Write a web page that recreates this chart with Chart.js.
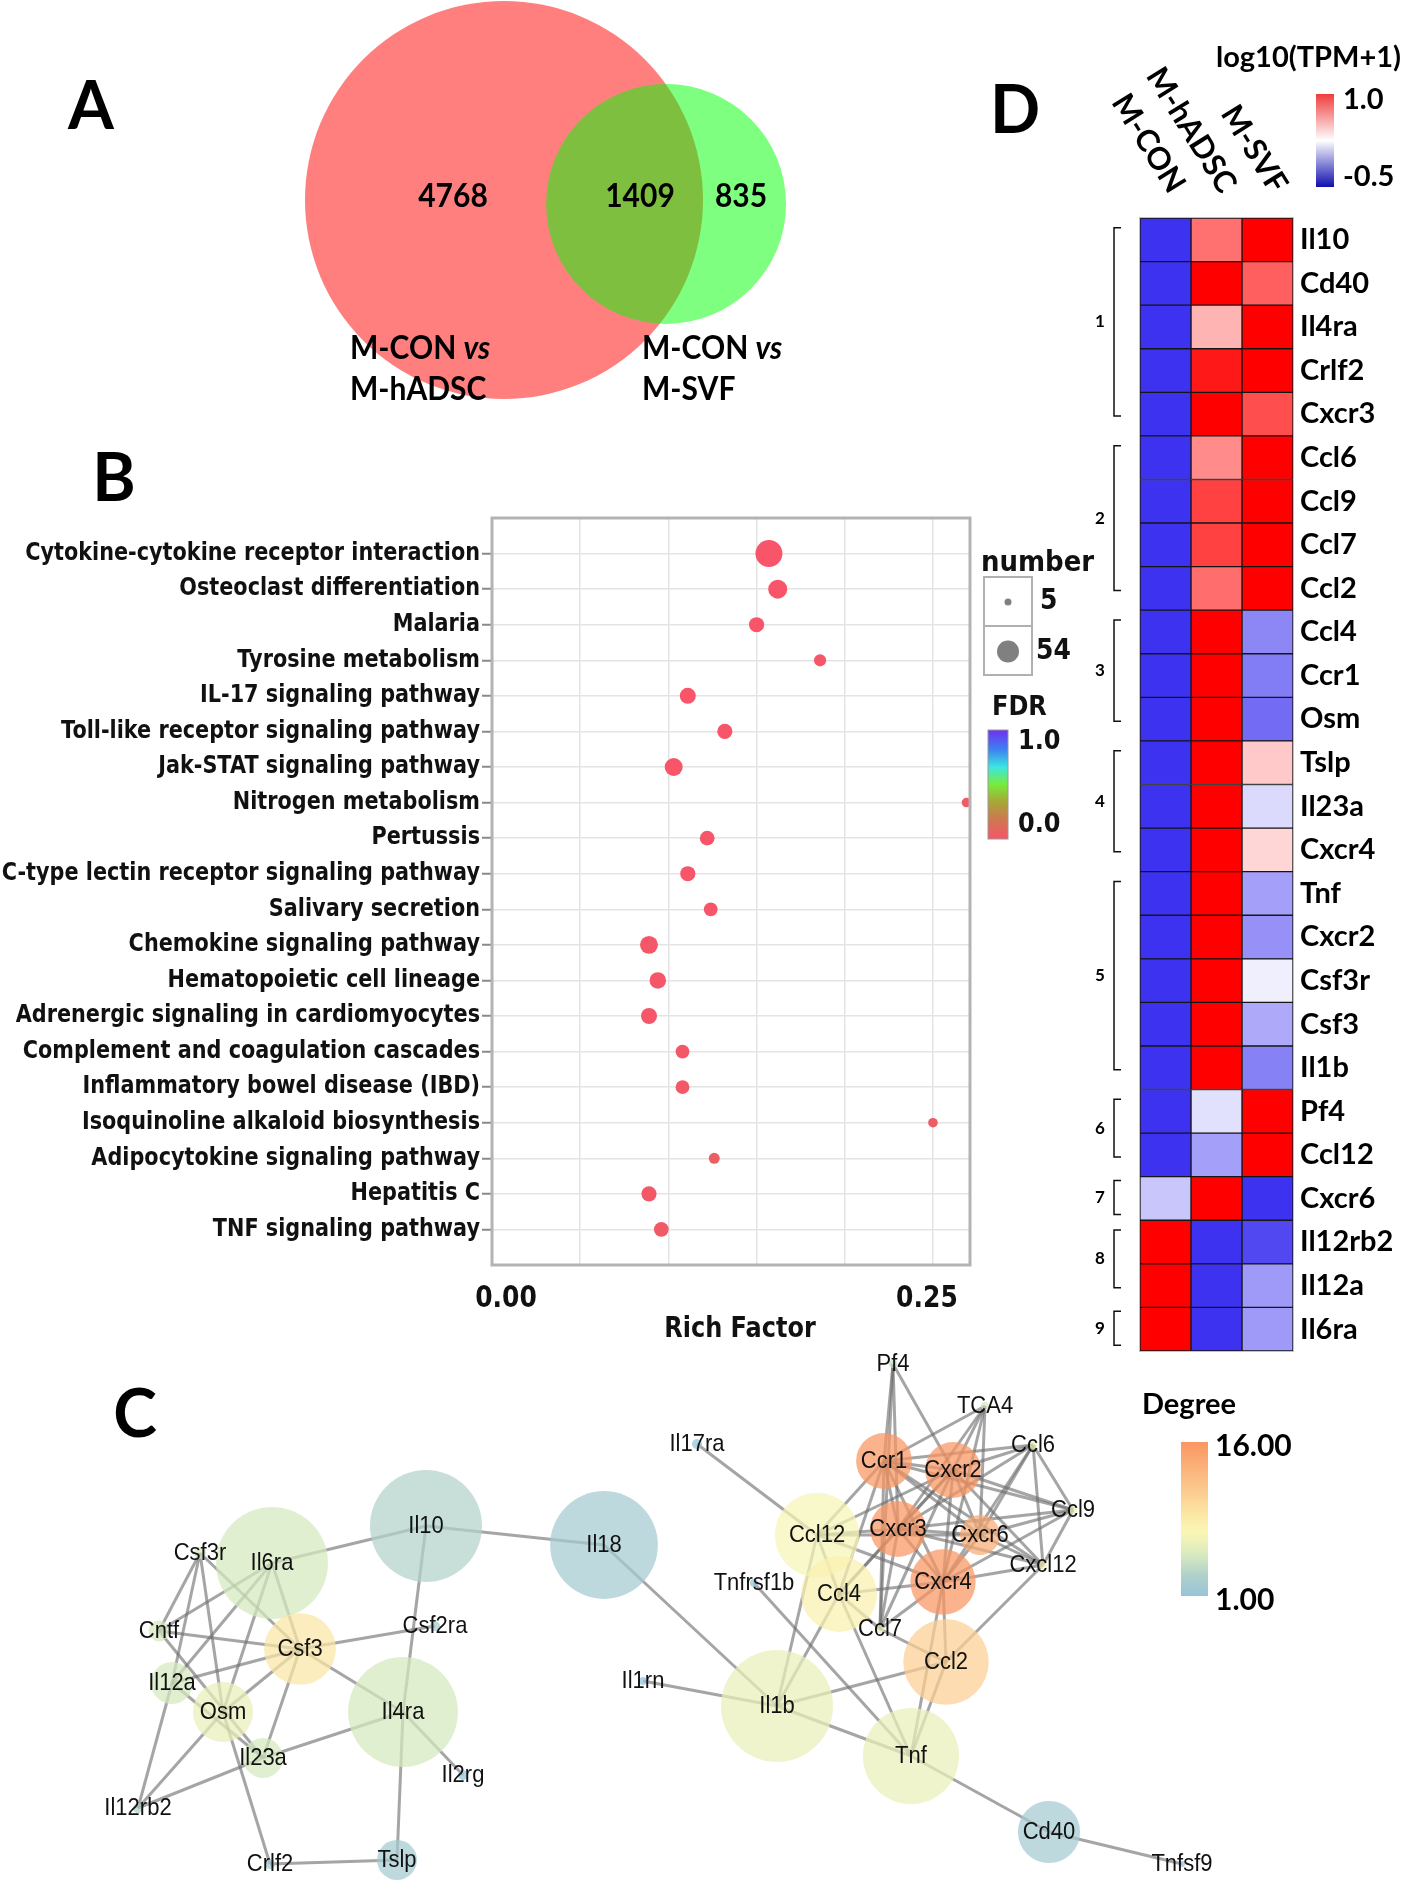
<!DOCTYPE html>
<html>
<head>
<meta charset="utf-8">
<title>Figure</title>
<script src="https://cdn.jsdelivr.net/npm/chart.js@4.4.1/dist/chart.umd.min.js"></script>
<style>
  html, body { margin: 0; padding: 0; background: #fff; }
  #page { position: relative; width: 1418px; height: 1881px; overflow: hidden; background: #fff; }
  #page canvas { position: absolute; }
</style>
</head>
<body>
<div id="page">
  <canvas id="vennChart" width="820" height="420" style="left:0;top:0"></canvas>
  <canvas id="keggChart" width="1110" height="920" style="left:0;top:440px"></canvas>
  <canvas id="heatChart" width="438" height="1360" style="left:980px;top:0"></canvas>
  <canvas id="netChart" width="1418" height="541" style="left:0;top:1340px"></canvas>
</div>
<script>
// ---- A : Venn ----
const vennLabels = ['M-CON vs M-hADSC', 'M-CON vs M-SVF'];
const vennCounts = [4768, 1409, 835]; // seulement A, commun, seulement B

// ---- B : enrichissement KEGG ----
const pathways = [
    'Cytokine-cytokine receptor interaction', 'Osteoclast differentiation', 'Malaria',
    'Tyrosine metabolism', 'IL-17 signaling pathway', 'Toll-like receptor signaling pathway',
    'Jak-STAT signaling pathway', 'Nitrogen metabolism', 'Pertussis',
    'C-type lectin receptor signaling pathway', 'Salivary secretion', 'Chemokine signaling pathway',
    'Hematopoietic cell lineage', 'Adrenergic signaling in cardiomyocytes',
    'Complement and coagulation cascades', 'Inflammatory bowel disease (IBD)',
    'Isoquinoline alkaloid biosynthesis', 'Adipocytokine signaling pathway', 'Hepatitis C',
    'TNF signaling pathway'
];
const richFactor = [0.157, 0.162, 0.150, 0.186, 0.111, 0.132, 0.103, 0.269, 0.122, 0.111,
                    0.124, 0.089, 0.094, 0.089, 0.108, 0.108, 0.250, 0.126, 0.089, 0.096];
const geneCount = [54, 25, 15, 9, 17, 15, 22, 5, 14, 15, 12, 22, 18, 17, 12, 12, 5, 7, 15, 14];
const fdrValue = [0.000, 0.000, 0.001, 0.010, 0.002, 0.004, 0.002, 0.030, 0.006, 0.004,
                  0.008, 0.012, 0.015, 0.013, 0.020, 0.020, 0.040, 0.045, 0.022, 0.025];
const richTicks = [0, 0.25];

// ---- D : heatmap log10(TPM+1) ----
const heatGenes = ['Il10', 'Cd40', 'Il4ra', 'Crlf2', 'Cxcr3', 'Ccl6', 'Ccl9', 'Ccl7', 'Ccl2',
                   'Ccl4', 'Ccr1', 'Osm', 'Tslp', 'Il23a', 'Cxcr4', 'Tnf', 'Cxcr2', 'Csf3r',
                   'Csf3', 'Il1b', 'Pf4', 'Ccl12', 'Cxcr6', 'Il12rb2', 'Il12a', 'Il6ra'];
const heatSamples = ['M-CON', 'M-hADSC', 'M-SVF'];
const heatCON   = [-0.5, -0.5, -0.5, -0.5, -0.5, -0.5, -0.5, -0.5, -0.5, -0.5, -0.5, -0.5, -0.5,
                   -0.5, -0.5, -0.5, -0.5, -0.5, -0.5, -0.5, -0.5, -0.5, 0.04, 1.0, 1.0, 1.0];
const heatHADSC = [0.67, 1.0, 0.47, 0.93, 1.0, 0.59, 0.81, 0.81, 0.68, 1.0, 1.0, 1.0, 1.0,
                   1.0, 1.0, 1.0, 1.0, 1.0, 1.0, 1.0, 0.135, -0.10, 1.0, -0.5, -0.5, -0.5];
const heatSVF   = [1.0, 0.72, 1.0, 1.0, 0.77, 1.0, 1.0, 1.0, 1.0, -0.19, -0.23, -0.29, 0.41,
                   0.11, 0.37, -0.10, -0.155, 0.19, -0.06, -0.21, 1.0, 1.0, -0.5, -0.42, -0.12, -0.12];
const heatClusterSizes = [5, 4, 3, 3, 5, 2, 1, 2, 1];

// ---- C : réseau PPI ----
const netNodes  = ['Il6ra', 'Il10', 'Il18', 'Csf3', 'Csf3r', 'Cntf', 'Il12a', 'Osm', 'Il23a', 'Il4ra',
                   'Csf2ra', 'Il2rg', 'Il12rb2', 'Crlf2', 'Tslp', 'Pf4', 'TCA4', 'Il17ra', 'Ccl6', 'Ccr1',
                   'Cxcr2', 'Ccl9', 'Ccl12', 'Cxcr3', 'Cxcr6', 'Cxcl12', 'Tnfrsf1b', 'Ccl4', 'Cxcr4', 'Ccl7',
                   'Ccl2', 'Il1rn', 'Il1b', 'Tnf', 'Cd40', 'Tnfsf9'];
const netX      = [272, 426, 604, 300, 200, 159, 172, 223, 263, 403,
                   435, 463, 138, 270, 397, 893, 985, 697, 1033, 884,
                   953, 1073, 817, 898, 980, 1043, 754, 839, 943, 880,
                   946, 643, 777, 911, 1049, 1182];
const netY      = [223, 186, 205, 309, 213, 291, 343, 372, 418, 372,
                   286, 435, 468, 524, 520, 24, 66, 104, 105, 121,
                   130, 170, 195, 189, 195, 225, 243, 254, 242, 289,
                   322, 341, 366, 416, 492, 524];
const netWeight = [10, 10, 9.6, 6.2, 0.6, 1.4, 3.4, 5.1, 3.2, 9.8,
                   0.4, 0.4, 0.4, 0.4, 3.2, 0.2, 0.2, 0.4, 0.2, 4.7,
                   4.7, 0.2, 7.4, 4.7, 3.2, 0.2, 0.2, 6.6, 5.6, 0.2,
                   7.5, 0.2, 10, 8.5, 5.3, 0];
const netDegree = [5, 3, 2, 9, 5, 5, 5, 6, 5, 5,
                   2, 1, 3, 2, 2, 4, 5, 1, 6, 16,
                   16, 6, 7, 16, 14, 7, 1, 8, 16, 6,
                   11, 1, 6, 6, 2, 1];
const netEdges = [
    ['Il6ra', 'Il10'], ['Il10', 'Il18'], ['Il10', 'Il4ra'], ['Csf3', 'Csf2ra'], ['Csf3', 'Il4ra'],
    ['Csf3', 'Il6ra'], ['Csf3', 'Cntf'], ['Csf3', 'Il12a'], ['Csf3', 'Osm'], ['Csf3', 'Il23a'],
    ['Csf3r', 'Csf3'], ['Csf3r', 'Cntf'], ['Csf3r', 'Il12a'], ['Csf3r', 'Osm'], ['Il6ra', 'Cntf'],
    ['Il6ra', 'Il12a'], ['Il6ra', 'Osm'], ['Cntf', 'Il23a'], ['Il12a', 'Il23a'], ['Il12a', 'Il12rb2'],
    ['Osm', 'Il12rb2'], ['Il23a', 'Il12rb2'], ['Il23a', 'Il4ra'], ['Osm', 'Crlf2'], ['Crlf2', 'Tslp'],
    ['Il4ra', 'Tslp'], ['Il4ra', 'Il2rg'],
    ['Il18', 'Il1b'], ['Il1rn', 'Il1b'], ['Il17ra', 'Ccl12'], ['Tnfrsf1b', 'Tnf'], ['Il1b', 'Ccl12'],
    ['Il1b', 'Ccl4'], ['Il1b', 'Ccl2'], ['Il1b', 'Tnf'], ['Tnf', 'Ccl4'], ['Tnf', 'Ccl2'],
    ['Tnf', 'Cxcr4'], ['Tnf', 'Cd40'], ['Cd40', 'Tnfsf9'], ['Ccl7', 'Ccl2'], ['Ccl2', 'Cxcl12'],
    ['Ccl2', 'Cxcr4'], ['Pf4', 'Ccr1'], ['Pf4', 'Cxcr3'], ['Pf4', 'Cxcr2'], ['Pf4', 'Ccl7'],
    ['TCA4', 'Ccr1'], ['TCA4', 'Cxcr2'], ['TCA4', 'Cxcr3'], ['TCA4', 'Cxcr6'], ['TCA4', 'Cxcr4'],
    ['Ccl6', 'Ccr1'], ['Ccl6', 'Cxcr2'], ['Ccl6', 'Cxcr3'], ['Ccl6', 'Cxcr6'], ['Ccl6', 'Ccl9'],
    ['Ccl6', 'Cxcl12'], ['Ccl6', 'Cxcr4'], ['Ccl9', 'Ccr1'], ['Ccl9', 'Cxcr2'], ['Ccl9', 'Cxcr3'],
    ['Ccl9', 'Cxcr6'], ['Ccl9', 'Cxcr4'], ['Ccl9', 'Cxcl12'], ['Cxcl12', 'Ccr1'], ['Cxcl12', 'Cxcr2'],
    ['Cxcl12', 'Cxcr3'], ['Cxcl12', 'Cxcr4'], ['Cxcl12', 'Cxcr6'], ['Ccr1', 'Cxcr2'], ['Ccr1', 'Cxcr3'],
    ['Ccr1', 'Cxcr4'], ['Ccr1', 'Ccl12'], ['Ccr1', 'Ccl4'], ['Ccr1', 'Ccl7'], ['Ccr1', 'Cxcr6'],
    ['Cxcr2', 'Cxcr3'], ['Cxcr2', 'Cxcr4'], ['Cxcr2', 'Cxcr6'], ['Cxcr2', 'Ccl7'], ['Cxcr2', 'Ccl12'],
    ['Cxcr2', 'Ccl4'], ['Cxcr3', 'Cxcr4'], ['Cxcr3', 'Cxcr6'], ['Cxcr3', 'Ccl12'], ['Cxcr3', 'Ccl4'],
    ['Cxcr3', 'Ccl7'], ['Cxcr4', 'Cxcr6'], ['Cxcr4', 'Ccl4'], ['Cxcr4', 'Ccl7'], ['Cxcr4', 'Ccl12'],
    ['Ccl12', 'Cxcr6'], ['Ccl4', 'Ccl7'], ['Ccl4', 'Ccl12']
];

// ---------- utilitaires ----------
function lerpColor(stops, t) {
    t = Math.max(0, Math.min(1, t));
    for (let i = 1; i < stops.length; i++) {
        if (t <= stops[i][0]) {
            const [t0, c0] = stops[i - 1];
            const [t1, c1] = stops[i];
            const f = (t - t0) / ((t1 - t0) || 1);
            return c0.map((v, k) => Math.round(v + (c1[k] - v) * f));
        }
    }
    return stops[stops.length - 1][1];
}
const rgb = (c, a = 1) => `rgba(${c[0]},${c[1]},${c[2]},${a})`;

function txt(ctx, s, x, y, font, align = 'left', color = '#111', baseline = 'middle') {
    ctx.font = font;
    ctx.fillStyle = color;
    ctx.textAlign = align;
    ctx.textBaseline = baseline;
    ctx.fillText(s, x, y);
}

// texte légèrement étiré (la figure d'origine est compressée en largeur)
function sText(ctx, s, x, y, font, align, sx, sy, color = '#111') {
    ctx.save();
    ctx.translate(x, y);
    ctx.scale(sx, sy);
    txt(ctx, s, 0, 0, font, align, color);
    ctx.restore();
}

function vertGradient(ctx, stops, x, top, w, h) {
    const g = ctx.createLinearGradient(0, top + h, 0, top);
    stops.forEach(([t, c]) => g.addColorStop(t, rgb(c)));
    ctx.fillStyle = g;
    ctx.fillRect(x, top, w, h);
}

const baseOptions = () => ({
    responsive: false,
    animation: false,
    events: [],
    plugins: { legend: { display: false }, tooltip: { enabled: false } }
});

const LATO = '"Lato", "Liberation Sans", sans-serif';
const DEJAVU = '"DejaVu Sans", sans-serif';

// ---------- A : Venn ----------
const vennTotals = [vennCounts[0] + vennCounts[1], vennCounts[1] + vennCounts[2]];
const vennR = [1, Math.sqrt(vennTotals[1] / vennTotals[0])];

function circleOverlap(r1, r2, d) {
    if (d >= r1 + r2) return 0;
    if (d <= Math.abs(r1 - r2)) return Math.PI * Math.min(r1, r2) ** 2;
    const a = r1 * r1 * Math.acos((d * d + r1 * r1 - r2 * r2) / (2 * d * r1));
    const b = r2 * r2 * Math.acos((d * d + r2 * r2 - r1 * r1) / (2 * d * r2));
    const c = 0.5 * Math.sqrt((-d + r1 + r2) * (d + r1 - r2) * (d - r1 + r2) * (d + r1 + r2));
    return a + b - c;
}

// distance des centres pour que l'aire commune soit proportionnelle à l'intersection
const vennTarget = Math.PI * vennCounts[1] / vennTotals[0];
let lo = Math.abs(vennR[0] - vennR[1]), hi = vennR[0] + vennR[1];
for (let i = 0; i < 60; i++) {
    const mid = (lo + hi) / 2;
    if (circleOverlap(vennR[0], vennR[1], mid) > vennTarget) lo = mid; else hi = mid;
}
const vennDist = (lo + hi) / 2;
const vennPx = 199; // pixels par unité de rayon

const vennText = {
    id: 'vennText',
    afterDraw(chart) {
        const ctx = chart.ctx;
        ctx.save();
        txt(ctx, 'A', 91, 108, `bold 66px ${LATO}`, 'center', '#000');
        const f = `bold 30px ${LATO}`;
        sText(ctx, vennCounts[0].toString(), 453, 197, f, 'center', 1, 1.08, '#000');
        sText(ctx, vennCounts[1].toString(), 640, 197, f, 'center', 1, 1.08, '#000');
        sText(ctx, vennCounts[2].toString(), 741, 197, f, 'center', 1, 1.08, '#000');
        [[350, 'M-hADSC'], [642, 'M-SVF']].forEach(([x, second]) => {
            ctx.font = `bold 30px ${LATO}`;
            const w = ctx.measureText('M-CON ').width;
            sText(ctx, 'M-CON ', x, 348, `bold 30px ${LATO}`, 'left', 1, 1.1, '#000');
            sText(ctx, 'vs', x + w, 348, `italic bold 30px ${LATO}`, 'left', 1, 1.1, '#000');
            sText(ctx, second, x, 389, `bold 30px ${LATO}`, 'left', 1, 1.1, '#000');
        });
        ctx.restore();
    }
};

new Chart(document.getElementById('vennChart'), {
    type: 'bubble',
    data: {
        datasets: [
            { label: vennLabels[0], data: [{ x: 0, y: 0, r: vennR[0] * vennPx }],
              backgroundColor: 'rgba(255,0,0,0.5)', borderWidth: 0, order: 1 },
            { label: vennLabels[1], data: [{ x: vennDist, y: -0.02, r: vennR[1] * vennPx }],
              backgroundColor: 'rgba(0,255,0,0.5)', borderWidth: 0, order: 0 }
        ]
    },
    options: {
        ...baseOptions(),
        layout: { padding: 0, autoPadding: false },
        scales: {
            x: { display: false, min: -504 / vennPx, max: (820 - 504) / vennPx },
            y: { display: false, min: -(420 - 200) / vennPx, max: 200 / vennPx }
        }
    },
    plugins: [vennText]
});

// ---------- B : bulles KEGG ----------
const fdrStops = [[0, [248, 84, 106]], [0.18, [205, 120, 80]], [0.35, [165, 170, 55]], [0.5, [120, 235, 60]],
                  [0.66, [60, 230, 225]], [0.82, [60, 130, 240]], [1, [112, 48, 240]]];
const sizeFor = n => 4.8 + (Math.sqrt(n) - Math.sqrt(5)) / (Math.sqrt(54) - Math.sqrt(5)) * 8.7;

const keggDecor = {
    id: 'keggDecor',
    afterDraw(chart) {
        const ctx = chart.ctx;
        const a = chart.chartArea;
        const xs = chart.scales.x, ys = chart.scales.y;
        ctx.save();
        ctx.strokeStyle = '#b3b3b3';
        ctx.lineWidth = 3;
        ctx.strokeRect(a.left, a.top, a.right - a.left, a.bottom - a.top);

        // libellés des voies, alignés sur l'échelle y
        pathways.forEach((p, i) => {
            sText(ctx, p, 480, ys.getPixelForValue(i + 1), `bold 21px ${DEJAVU}`, 'right', 0.99, 1.16);
        });
        // libellés de l'axe x (décalés comme dans la figure d'origine)
        richTicks.forEach(v => {
            const shift = v === 0 ? 14 : -6;
            sText(ctx, v.toFixed(2), xs.getPixelForValue(v) + shift, 859, `bold 25px ${DEJAVU}`, 'center', 1, 1.2);
        });

        txt(ctx, 'B', 114, 40, `bold 66px ${LATO}`, 'center', '#000');
        sText(ctx, 'Rich Factor', 740, 890, `bold 24px ${DEJAVU}`, 'center', 1, 1.15);

        // légende taille
        sText(ctx, 'number', 981, 123, `bold 26px ${DEJAVU}`, 'left', 1, 1.12);
        ctx.strokeStyle = '#b0b0b0';
        ctx.lineWidth = 2;
        ctx.strokeRect(984, 137, 48, 49);
        ctx.strokeRect(984, 186, 48, 49);
        ctx.fillStyle = '#808080';
        ctx.beginPath(); ctx.arc(1008, 162, 3.5, 0, Math.PI * 2); ctx.fill();
        ctx.beginPath(); ctx.arc(1008, 211.5, 11, 0, Math.PI * 2); ctx.fill();
        sText(ctx, '5', 1040, 162, `bold 25px ${DEJAVU}`, 'left', 1, 1.12);
        sText(ctx, '54', 1036, 212, `bold 25px ${DEJAVU}`, 'left', 1, 1.12);

        // légende FDR
        sText(ctx, 'FDR', 992, 268, `bold 24px ${DEJAVU}`, 'left', 1, 1.12);
        vertGradient(ctx, fdrStops, 988, 290, 20, 109);
        ctx.strokeStyle = '#999';
        ctx.lineWidth = 1;
        ctx.strokeRect(988, 290, 20, 109);
        sText(ctx, '1.0', 1018, 302, `bold 24px ${DEJAVU}`, 'left', 1, 1.12);
        sText(ctx, '0.0', 1018, 385, `bold 24px ${DEJAVU}`, 'left', 1, 1.12);
        ctx.restore();
    }
};

new Chart(document.getElementById('keggChart'), {
    type: 'bubble',
    data: {
        datasets: [{
            data: pathways.map((p, i) => ({ x: richFactor[i], y: i + 1, r: sizeFor(geneCount[i]) })),
            backgroundColor: fdrValue.map(v => rgb(lerpColor(fdrStops, v))),
            borderWidth: 0
        }]
    },
    options: {
        ...baseOptions(),
        layout: { padding: { left: 0, top: 78, right: 140, bottom: 0 }, autoPadding: false },
        scales: {
            x: {
                type: 'linear', min: 0, max: 0.271,
                afterFit: s => { s.height = 95; },
                ticks: { stepSize: 0.05, includeBounds: false, autoSkip: false, maxRotation: 0,
                         color: 'rgba(0,0,0,0)', font: { size: 25 } },
                grid: { color: '#e4e4e4', lineWidth: 1.5, drawTicks: false },
                border: { display: false }
            },
            y: {
                type: 'linear', min: 0, max: 21, reverse: true,
                afterFit: s => { s.width = 492; s.paddingTop = 0; s.paddingBottom = 0; },
                ticks: { stepSize: 1, autoSkip: false, padding: 2, color: 'rgba(0,0,0,0)',
                         font: { size: 21 }, callback: v => pathways[Math.round(v) - 1] || '' },
                grid: {
                    color: '#e4e4e4', lineWidth: 1.5, tickLength: 10, tickWidth: 2,
                    tickColor: c => (c.tick && c.tick.value >= 1 && c.tick.value <= 20) ? '#8a8a8a' : 'rgba(0,0,0,0)'
                },
                border: { display: false }
            }
        }
    },
    plugins: [keggDecor]
});

// ---------- D : heatmap ----------
const heatBlue = [60, 50, 240], heatRed = [255, 0, 0];
function heatColor(v) {
    const mid = 0.25;
    const target = v >= mid ? heatRed : heatBlue;
    const f = Math.min(1, Math.abs(v - mid) / 0.75);
    return rgb([0, 1, 2].map(k => Math.round(255 + (target[k] - 255) * f)));
}
const heatMatrix = [heatCON, heatHADSC, heatSVF];
const heatLegendStops = [[0, [15, 15, 175]], [0.5, [255, 255, 255]], [1, [240, 60, 60]]];

const heatDecor = {
    id: 'heatDecor',
    afterDraw(chart) {
        const ctx = chart.ctx;
        const xs = chart.scales.x, ys = chart.scales.y;
        const a = chart.chartArea;
        ctx.save();
        ctx.strokeStyle = '#b8c4cc';
        ctx.lineWidth = 1;
        ctx.strokeRect(a.left - 0.5, a.top - 0.5, a.right - a.left + 1, a.bottom - a.top + 1);

        txt(ctx, 'D', 35, 112, `bold 66px ${LATO}`, 'center', '#000');

        // en-têtes inclinés
        heatSamples.forEach((s, j) => {
            ctx.save();
            ctx.translate(xs.getPixelForValue(j + 0.5) + 12, 190);
            ctx.rotate(58 * Math.PI / 180);
            txt(ctx, s, 0, 0, `bold 31px ${LATO}`, 'right', '#000');
            ctx.restore();
        });

        // crochets des clusters
        let start = 0;
        ctx.strokeStyle = '#111';
        ctx.lineWidth = 1.5;
        heatClusterSizes.forEach((n, k) => {
            const c0 = ys.getPixelForValue(start), c1 = ys.getPixelForValue(start + n - 1);
            const top = n > 1 ? c0 - 12 : c0 - 18;
            const bot = n > 1 ? c1 + 2 : c1 + 16;
            ctx.beginPath();
            ctx.moveTo(141, top); ctx.lineTo(134, top); ctx.lineTo(134, bot); ctx.lineTo(141, bot);
            ctx.stroke();
            txt(ctx, String(k + 1), 120, (top + bot) / 2, `bold 17px ${LATO}`, 'center', '#000');
            start += n;
        });

        // légende couleur
        txt(ctx, 'log10(TPM+1)', 236, 58, `bold 29px ${LATO}`, 'left', '#000');
        vertGradient(ctx, heatLegendStops, 336, 94, 18, 93);
        txt(ctx, '1.0', 363, 100, `bold 29px ${LATO}`, 'left', '#000');
        txt(ctx, '-0.5', 363, 177, `bold 29px ${LATO}`, 'left', '#000');
        ctx.restore();
    }
};

new Chart(document.getElementById('heatChart'), {
    type: 'bar',
    data: {
        labels: heatGenes,
        datasets: heatSamples.map((s, j) => ({
            label: s,
            data: heatGenes.map(() => 1),
            backgroundColor: heatMatrix[j].map(heatColor),
            borderColor: '#161616',
            borderWidth: 1,
            borderSkipped: false,
            barPercentage: 1,
            categoryPercentage: 1
        }))
    },
    options: {
        ...baseOptions(),
        indexAxis: 'y',
        layout: { padding: { left: 160, top: 218, right: 0, bottom: 9 }, autoPadding: false },
        scales: {
            x: { stacked: true, min: 0, max: 3, display: false },
            y: {
                stacked: true, position: 'right',
                afterFit: s => { s.width = 125; s.paddingTop = 0; s.paddingBottom = 0; },
                ticks: { padding: 7, color: '#000', font: { family: LATO, weight: 'bold', size: 29 } },
                grid: { display: false, drawTicks: false },
                border: { display: false }
            }
        }
    },
    plugins: [heatDecor]
});

// ---------- C : réseau ----------
const degreeStops = [[0, [150, 196, 216]], [0.13, [176, 208, 202]], [0.27, [215, 234, 191]],
                     [0.36, [240, 242, 184]], [0.42, [250, 246, 180]], [0.53, [251, 231, 165]],
                     [0.67, [251, 205, 145]], [1, [250, 150, 98]]];
const nodeRadius = w => 3 + w * 5.3;
const nodeIndex = name => netNodes.indexOf(name);

const netDecor = {
    id: 'netDecor',
    afterDatasetsDraw(chart) {
        const ctx = chart.ctx;
        const meta = chart.getDatasetMeta(0);
        ctx.save();
        meta.data.forEach((el, i) => {
            sText(ctx, netNodes[i], el.x, el.y, `22px "Liberation Sans", Arial, sans-serif`, 'center', 1, 1.1, '#111');
        });
        txt(ctx, 'C', 135, 76, `bold 66px ${LATO}`, 'center', '#000');

        // légende Degree
        txt(ctx, 'Degree', 1142, 65, `bold 29px ${LATO}`, 'left', '#000');
        vertGradient(ctx, degreeStops, 1181, 102, 27, 154);
        txt(ctx, '16.00', 1215, 106, `bold 30px ${LATO}`, 'left', '#000');
        txt(ctx, '1.00', 1215, 260, `bold 30px ${LATO}`, 'left', '#000');
        ctx.restore();
    }
};

const edgeDatasets = netEdges.map(([a, b]) => {
    const i = nodeIndex(a), j = nodeIndex(b);
    return {
        type: 'line',
        data: [{ x: netX[i], y: netY[i] }, { x: netX[j], y: netY[j] }],
        borderColor: 'rgba(110,110,110,0.62)',
        borderWidth: 3,
        pointRadius: 0,
        showLine: true,
        order: 1
    };
});

new Chart(document.getElementById('netChart'), {
    type: 'scatter',
    data: {
        datasets: [{
            type: 'bubble',
            data: netNodes.map((n, i) => ({ x: netX[i], y: netY[i], r: nodeRadius(netWeight[i]) })),
            backgroundColor: netDegree.map(d => rgb(lerpColor(degreeStops, (d - 1) / 15), 0.72)),
            borderWidth: 0,
            order: 0
        }, ...edgeDatasets]
    },
    options: {
        ...baseOptions(),
        layout: { padding: 0, autoPadding: false },
        scales: {
            x: { type: 'linear', display: false, min: 0, max: 1418 },
            y: { type: 'linear', display: false, min: 0, max: 541, reverse: true }
        }
    },
    plugins: [netDecor]
});
</script>
</body>
</html>
